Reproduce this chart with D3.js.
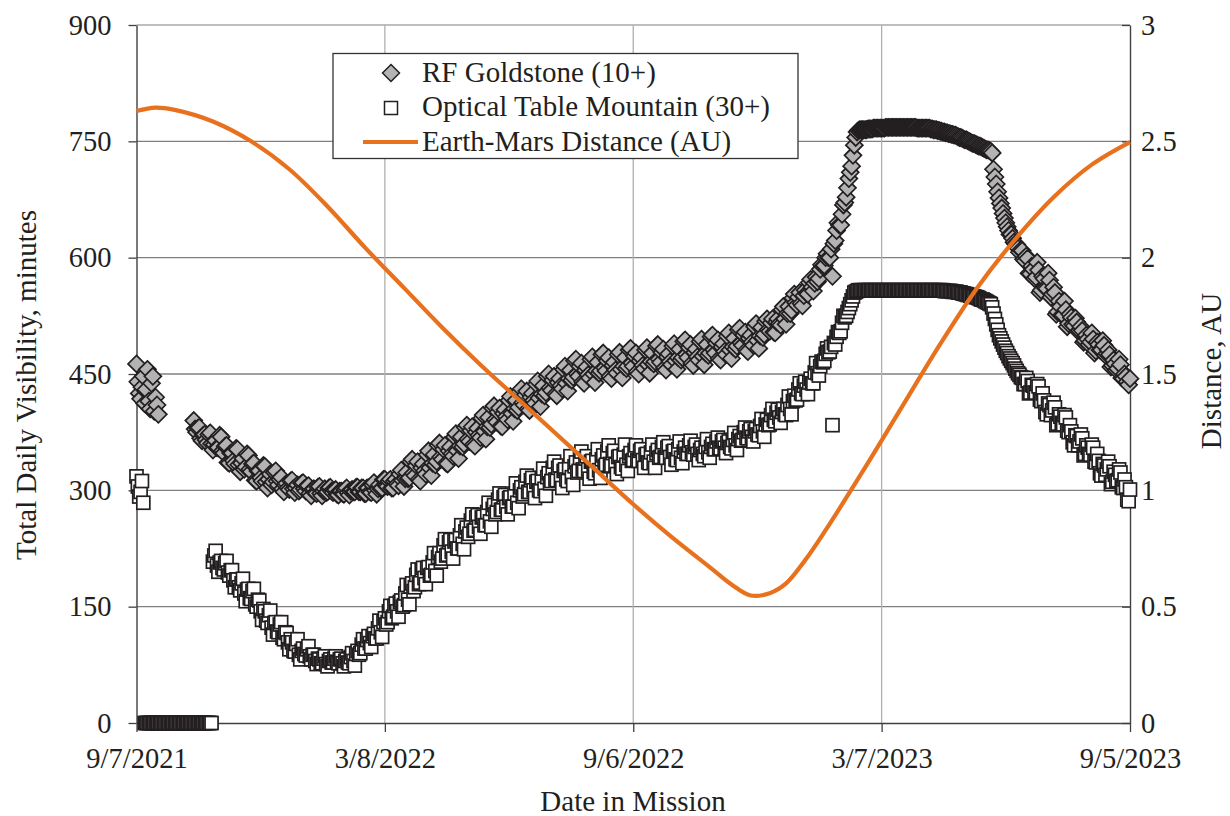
<!DOCTYPE html>
<html><head><meta charset="utf-8">
<script src="https://cdn.jsdelivr.net/npm/d3@7"></script>
<style>
body{margin:0;background:#fff}
text{font-family:"Liberation Serif","Times New Roman",serif;fill:#231f20}
</style></head>
<body><svg id="c" width="1230" height="816"></svg>
<script>
// ---------- DATA ----------
const missionStart = "2021-09-07";
const missionEnd = "2023-09-05";
const sampleStepDays = 1; // one value per mission day
const seriesNames = ["RF Goldstone (10+)", "Optical Table Mountain (30+)", "Earth-Mars Distance (AU)"];
const xTickDates = ["2021-09-07","2022-03-08","2022-09-06","2023-03-07","2023-09-05"];
const xTickLabels = ["9/7/2021","3/8/2022","9/6/2022","3/7/2023","9/5/2023"];
const leftTicks = [0,150,300,450,600,750,900];
const rightTicks = [0,0.5,1,1.5,2,2.5,3];
const rightTickLabels = ["0","0.5","1","1.5","2","2.5","3"];

// daily total visibility, minutes (20 days per row)
const rfMinutes = [
463,440,425,418,433,447,412,430,456,415,405,438,447,402,420,410,398,null,null,null,
null,null,null,null,null,null,null,null,null,null,null,null,null,null,null,null,null,null,null,null,
null,null,390,379,375,380,381,367,364,371,372,365,361,372,374,360,352,359,364,355,
355,371,369,351,348,357,358,336,335,348,348,338,334,354,353,333,324,335,341,327,
330,347,345,327,324,334,335,313,312,325,325,316,312,332,331,311,303,314,321,307,
311,323,325,312,307,314,317,302,298,307,309,303,301,312,313,302,297,303,307,299,
301,309,310,302,299,305,306,296,293,301,302,297,296,304,305,296,293,299,302,297,
298,303,304,299,297,300,301,295,294,299,299,296,295,301,303,297,294,299,301,298,
298,304,304,298,298,303,303,296,296,303,303,298,297,307,310,300,295,302,307,302,
303,314,314,306,305,312,314,303,303,312,314,308,306,321,326,313,305,315,323,315,
316,337,340,322,319,332,337,314,312,329,334,325,321,346,351,329,319,335,346,333,
337,358,361,343,340,353,358,335,334,351,356,347,344,369,373,351,341,357,369,356,
360,381,384,366,363,377,382,359,357,375,380,371,368,393,397,376,366,382,394,381,
385,406,409,391,388,401,406,383,382,399,404,395,391,416,421,399,389,405,416,403,
407,428,431,413,410,423,428,405,403,420,425,416,412,437,441,419,408,424,435,422,
426,447,450,432,429,442,447,424,422,439,444,435,431,456,460,438,428,444,455,442,
446,467,469,450,447,460,464,440,438,455,459,449,445,469,472,450,439,454,465,451,
454,475,477,458,454,467,471,447,444,461,465,455,451,475,478,456,445,460,471,457,
460,481,483,464,460,473,477,453,450,467,471,461,457,481,484,462,451,466,477,463,
466,486,488,469,465,478,482,458,455,472,476,466,462,486,489,467,456,471,482,468,
471,492,494,475,471,484,488,464,461,478,482,472,468,492,495,473,462,477,488,474,
477,498,500,481,477,490,494,470,468,485,489,479,475,499,503,481,470,485,496,482,
486,507,509,490,487,500,504,481,479,496,500,491,487,511,515,493,483,499,510,497,
501,518,521,507,505,516,521,504,503,517,521,515,513,533,537,521,514,528,537,528,
532,548,553,542,539,549,555,541,538,551,558,554,553,568,572,562,557,567,575,569,
573,585,591,589,590,600,605,600,600,611,576,618,622,635,645,642,642,656,668,671,
678,690,702,710,718,732,745,755,762,764,765,765,765,765,765,765,766,766,766,766,
767,767,767,767,767,767,767,767,767,768,768,768,768,768,768,768,768,768,768,768,
768,768,768,768,768,768,768,768,768,768,768,768,767,767,767,767,767,767,767,767,
767,767,766,766,765,765,765,764,764,763,763,762,762,761,761,760,760,759,759,758,
758,757,756,755,755,754,753,752,752,751,750,749,748,747,747,746,745,744,744,743,
742,741,740,739,739,738,737,735,714,704,695,685,677,670,664,657,651,645,640,635,
630,630,625,620,618,617,612,607,610,609,598,596,602,599,580,579,589,585,573,575,
594,584,555,558,576,573,561,560,580,571,549,553,562,555,527,530,544,537,526,526,
544,533,511,515,527,523,514,512,522,517,505,506,511,506,491,493,500,495,488,491,
503,495,477,480,491,488,481,481,493,487,474,476,481,475,459,461,468,463,455,457,
469,462,445,444,450,447,440,436,444
];

const opticalMinutes = [
318,305,292,298,312,284,0,0,0,0,0,0,0,0,0,0,0,0,0,0,
0,0,0,0,0,0,0,0,0,0,0,0,0,0,0,0,0,0,0,0,
0,0,0,0,0,0,0,0,0,0,0,0,0,0,0,0,208,216,222,203,
195,207,209,200,198,206,209,194,190,197,197,184,175,185,185,175,171,180,186,167,
157,172,173,161,160,170,173,153,150,159,158,144,133,147,144,132,129,139,145,123,
114,129,130,118,117,127,130,110,108,117,116,104,95,108,104,93,92,102,108,88,
82,93,96,89,87,95,99,86,82,88,88,80,76,83,82,77,77,83,86,76,
73,80,82,78,78,83,86,79,77,82,83,77,73,80,82,78,77,85,90,80,
74,89,93,88,90,101,108,96,96,107,112,103,98,112,115,109,109,122,132,117,
111,130,135,127,130,144,151,135,137,151,154,144,137,156,158,150,152,167,178,159,
153,176,180,170,175,191,198,179,181,197,200,187,179,200,201,190,191,207,219,196,
190,214,219,208,212,229,237,216,217,233,236,221,212,234,236,225,225,242,255,231,
224,247,252,240,244,261,269,248,249,265,268,253,244,265,266,255,255,272,284,260,
253,276,281,269,272,288,296,275,275,291,294,279,269,290,291,279,279,296,309,284,
277,300,304,292,295,311,319,298,298,313,316,300,290,311,312,300,299,316,328,302,
293,317,322,309,312,329,337,314,313,329,332,315,303,325,327,314,312,330,344,317,
307,331,336,323,325,342,350,327,325,341,344,327,315,337,338,324,322,340,353,326,
316,340,345,331,333,350,358,334,332,348,351,333,321,343,344,330,328,346,359,333,
325,344,348,338,339,352,358,339,338,351,353,339,329,346,347,336,335,349,359,337,
329,348,352,342,343,356,362,343,342,355,357,343,333,350,351,340,339,353,363,342,
335,350,355,347,347,358,364,349,346,356,359,347,339,352,355,347,344,356,366,349,
342,356,360,353,353,363,368,355,354,363,365,355,348,361,363,356,354,365,374,358,
352,366,370,364,365,375,381,368,367,376,379,369,363,376,379,372,371,383,392,376,
369,385,391,384,385,397,405,391,389,400,404,394,387,401,405,398,397,410,421,405,
398,415,422,416,417,430,438,425,424,435,440,430,424,439,444,438,438,452,464,451,
448,460,466,465,467,476,483,478,479,485,384,490,488,498,504,503,505,516,525,523,
525,530,535,540,545,550,555,556,557,558,558,558,558,558,558,558,558,558,558,558,
558,558,558,558,558,558,558,558,558,558,558,558,558,558,558,558,558,558,558,558,
558,558,558,558,558,558,558,558,558,558,558,558,558,558,558,558,558,558,558,558,
558,558,558,558,558,558,558,558,558,558,558,558,557,557,557,557,557,557,556,556,
556,556,555,555,555,554,554,553,553,552,552,551,551,550,550,549,549,548,547,546,
546,545,544,543,542,541,540,536,528,521,514,507,500,496,492,488,484,480,477,473,
470,467,464,461,457,454,451,449,446,445,437,437,445,441,425,426,436,435,426,426,
437,434,417,415,425,416,401,398,412,410,397,403,413,407,384,386,398,395,387,385,
397,394,377,375,384,376,362,358,371,370,358,363,372,367,345,347,358,355,347,346,
359,355,337,336,347,338,322,319,334,332,320,327,337,331,308,311,324,320,312,313,
327,323,304,303,314,304,288,286,301
];

// Earth-Mars distance (AU) read at these mission days
const distDays = [0,14,28,56,84,112,140,168,196,224,252,280,308,336,364,392,420,436,450,464,476,490,504,532,560,588,616,644,672,700,728];
const distAU   = [2.63,2.645,2.635,2.585,2.50,2.38,2.22,2.04,1.87,1.70,1.54,1.39,1.24,1.09,0.94,0.80,0.67,0.595,0.548,0.558,0.60,0.70,0.82,1.08,1.35,1.62,1.87,2.08,2.26,2.40,2.497];

// ---------- CHART ----------
const svg = d3.select("#c");
svg.append("rect").attr("width",1230).attr("height",816).attr("fill","#fff");
const parse = d3.utcParse("%Y-%m-%d");
const t0 = parse(missionStart);
const dayToDate = d => new Date(t0.getTime() + d*864e5);

const L = 136.5, R = 1130, T = 25, B = 723;
const x = d3.scaleUtc().domain([t0, parse(missionEnd)]).range([L, R]);
const yL = d3.scaleLinear().domain([0,900]).range([B, T]);
const yR = d3.scaleLinear().domain([0,3]).range([B, T]);

const FS = 28.5;
// gridlines
const grid = svg.append("g");
grid.selectAll("line.h").data(leftTicks.filter(v=>v>0)).join("line")
  .attr("x1",L).attr("x2",R).attr("y1",d=>yL(d)).attr("y2",d=>yL(d))
  .attr("stroke",d=>d===900?"#a8a8a8":"#808080").attr("stroke-width",1.3);
grid.selectAll("line.v").data(xTickDates.slice(1,-1).map(parse)).join("line")
  .attr("x1",d=>x(d)).attr("x2",d=>x(d)).attr("y1",T).attr("y2",B)
  .attr("stroke","#b0b0b0").attr("stroke-width",1.3);

function styleAxis(g){
  g.select(".domain").attr("stroke","#404040").attr("stroke-width",1.4);
  g.selectAll(".tick line").attr("stroke","#404040").attr("stroke-width",1.3);
  g.selectAll(".tick text").attr("font-size",FS).attr("font-family",'"Liberation Serif",serif').attr("fill","#231f20");
}
svg.append("g").attr("transform",`translate(0,${B})`)
  .call(d3.axisBottom(x).tickValues(xTickDates.map(parse)).tickFormat((d,i)=>xTickLabels[i]).tickSizeInner(9).tickSizeOuter(0).tickPadding(16))
  .call(styleAxis);
svg.append("g").attr("transform",`translate(${L},0)`)
  .call(d3.axisLeft(yL).tickValues(leftTicks).tickFormat(d3.format("d")).tickSizeInner(8).tickSizeOuter(0).tickPadding(17))
  .call(styleAxis);
svg.append("g").attr("transform",`translate(${R},0)`)
  .call(d3.axisRight(yR).tickValues(rightTicks).tickFormat((d,i)=>rightTickLabels[i]).tickSizeInner(-8).tickSizeOuter(0).tickPadding(11))
  .call(styleAxis);

// axis titles
svg.append("text").attr("x",633).attr("y",811).attr("text-anchor","middle").attr("font-size",29).text("Date in Mission");
svg.append("text").attr("transform","translate(36,385) rotate(-90)").attr("text-anchor","middle").attr("font-size",29).text("Total Daily Visibility, minutes");
svg.append("text").attr("transform","translate(1221,371) rotate(-90)").attr("text-anchor","middle").attr("font-size",29).text("Distance, AU");

// markers
const MSW = 1.7;
const diamondPath = "M0,-8.5L8.5,0L0,8.5L-8.5,0Z";
const rfPts = rfMinutes.map((v,i)=>({d:i*sampleStepDays,v})).filter(p=>p.v!==null);
svg.append("g").selectAll("path").data(rfPts).join("path")
  .attr("d",diamondPath)
  .attr("transform",p=>`translate(${x(dayToDate(p.d))},${yL(p.v)})`)
  .attr("fill","#b3b3b3").attr("stroke","#231f20").attr("stroke-width",MSW);

const opPts = opticalMinutes.map((v,i)=>({d:i*sampleStepDays,v})).filter(p=>p.v!==null);
const SQ = 13;
svg.append("g").selectAll("rect").data(opPts).join("rect")
  .attr("x",p=>x(dayToDate(p.d))-SQ/2).attr("y",p=>yL(p.v)-SQ/2)
  .attr("width",SQ).attr("height",SQ)
  .attr("fill","#fff").attr("stroke","#231f20").attr("stroke-width",MSW);

// distance line
const distPts = distDays.map((d,i)=>[d,distAU[i]]);
svg.append("path").datum(distPts)
  .attr("d",d3.line().x(p=>x(dayToDate(p[0]))).y(p=>yR(p[1])).curve(d3.curveCatmullRom.alpha(0.5)))
  .attr("fill","none").attr("stroke","#e8711e").attr("stroke-width",4.2);

// legend
const lg = svg.append("g");
lg.append("rect").attr("x",333).attr("y",53.5).attr("width",465).attr("height",105)
  .attr("fill","#fff").attr("stroke","#333").attr("stroke-width",1.3);
lg.append("path").attr("d",diamondPath).attr("transform","translate(391,73)")
  .attr("fill","#b3b3b3").attr("stroke","#231f20").attr("stroke-width",1.5);
lg.append("rect").attr("x",391-SQ/2).attr("y",108-SQ/2).attr("width",SQ).attr("height",SQ)
  .attr("fill","#fff").attr("stroke","#231f20").attr("stroke-width",1.5);
lg.append("line").attr("x1",363).attr("x2",418).attr("y1",142).attr("y2",142)
  .attr("stroke","#e8711e").attr("stroke-width",4.2);
const lgY = [82,116,151];
seriesNames.forEach((n,i)=>{
  lg.append("text").attr("x",422).attr("y",lgY[i]).attr("font-size",29).text(n);
});
</script></body></html>
